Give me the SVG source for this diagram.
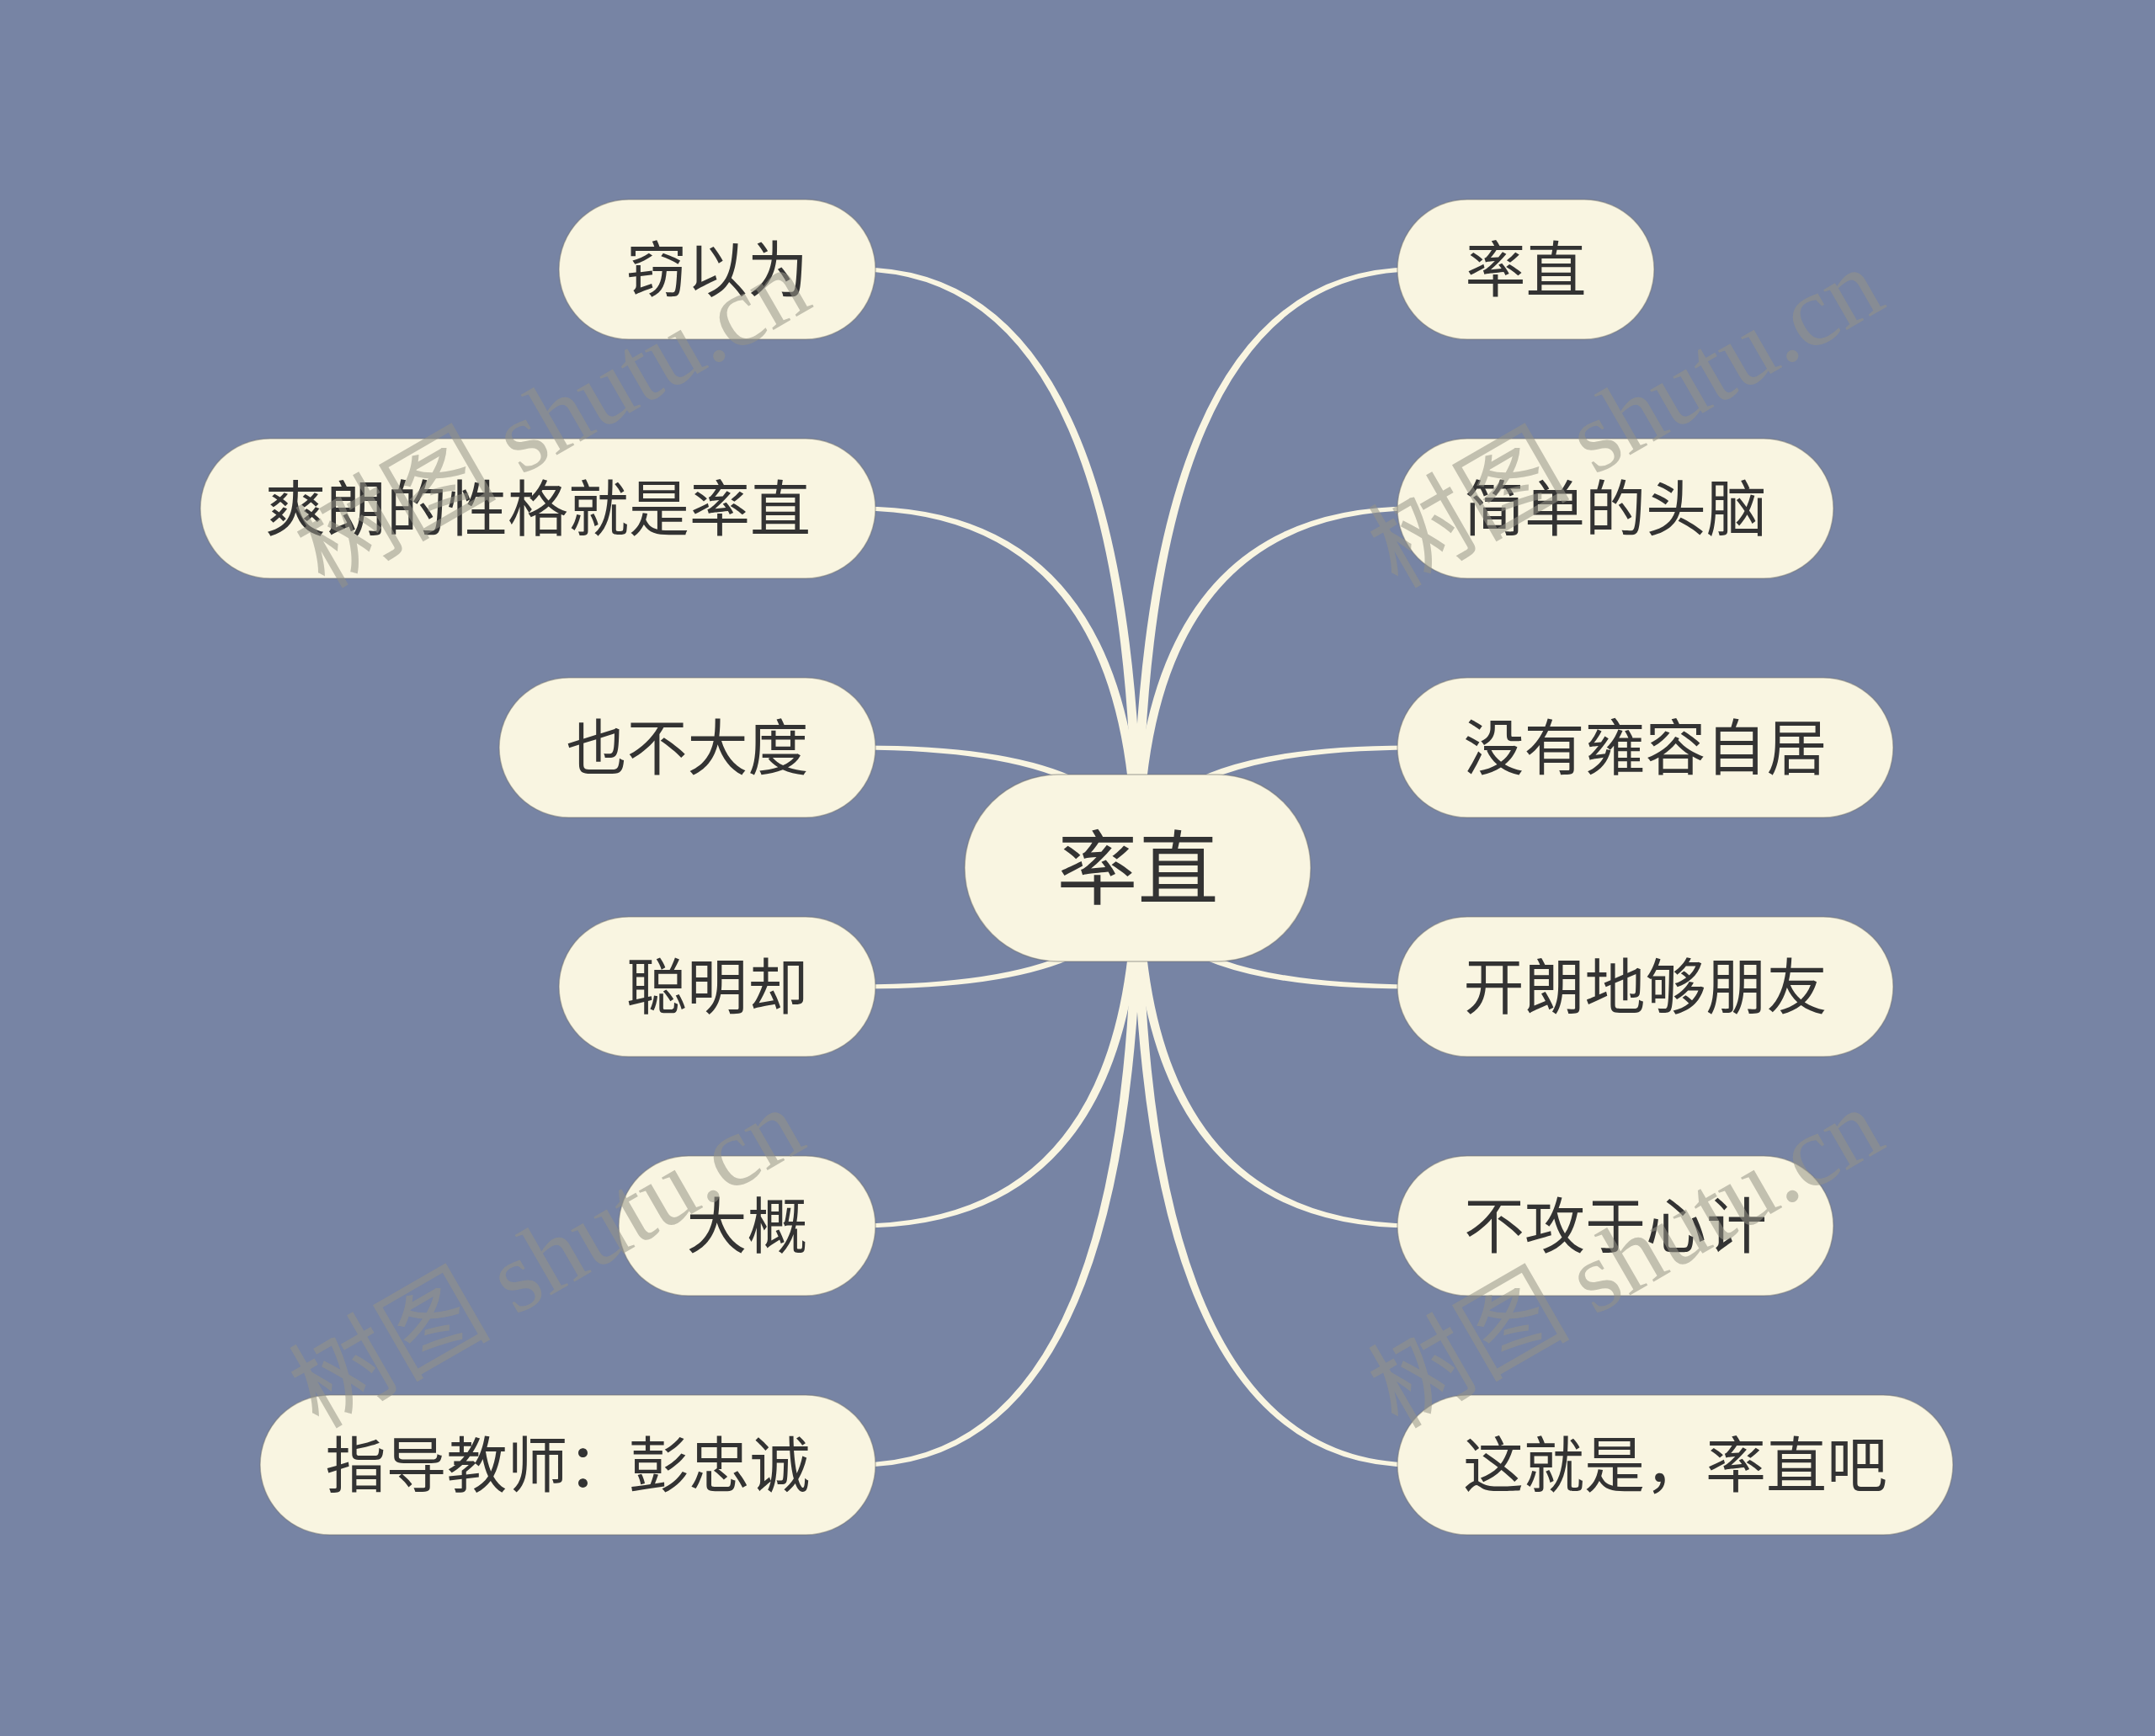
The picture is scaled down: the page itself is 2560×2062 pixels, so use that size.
<svg xmlns="http://www.w3.org/2000/svg" width="2560" height="2062" viewBox="0 0 2560 2062">
<style>
.bg{fill:#7784A4}
.node{fill:#F9F5E1;stroke:#6f6f6a;stroke-opacity:0.45;stroke-width:1.5}
.t{font-family:"Noto Sans CJK SC","Noto Sans",sans-serif;font-size:72px;fill:#333333;text-anchor:middle}
.rt{font-family:"Noto Sans CJK SC","Noto Sans",sans-serif;font-size:96px;fill:#333333;text-anchor:middle}
.link{fill:#F9F5E1;stroke:none}
.wm{font-family:"Liberation Serif","Noto Sans CJK SC",serif;font-size:120px;fill:rgb(150,148,135);fill-opacity:0.55}
</style>
<rect class="bg" x="0" y="0" width="2560" height="2062"/>
<g id="connectors">
<path class="link" d="M1357,1031 Q1355,316 1020,317.5 L1020,322.5 Q1347,324 1345,1031 Z"/>
<path class="link" d="M1357,1031 Q1355,600 1020,601.5 L1020,606.5 Q1347,608 1345,1031 Z"/>
<path class="link" d="M1357,1031 Q1355,884 1020,885.5 L1020,890.5 Q1347,892 1345,1031 Z"/>
<path class="link" d="M1357,1031 Q1355,1176 1020,1174.5 L1020,1169.5 Q1347,1168 1345,1031 Z"/>
<path class="link" d="M1357,1031 Q1355,1460 1020,1458.5 L1020,1453.5 Q1347,1452 1345,1031 Z"/>
<path class="link" d="M1357,1031 Q1355,1744 1020,1742.5 L1020,1737.5 Q1347,1736 1345,1031 Z"/>
<path class="link" d="M1345,1031 Q1347,316 1680,317.5 L1680,322.5 Q1355,324 1357,1031 Z"/>
<path class="link" d="M1345,1031 Q1347,600 1680,601.5 L1680,606.5 Q1355,608 1357,1031 Z"/>
<path class="link" d="M1345,1031 Q1347,884 1680,885.5 L1680,890.5 Q1355,892 1357,1031 Z"/>
<path class="link" d="M1345,1031 Q1347,1176 1680,1174.5 L1680,1169.5 Q1355,1168 1357,1031 Z"/>
<path class="link" d="M1345,1031 Q1347,1460 1680,1458.5 L1680,1453.5 Q1355,1452 1357,1031 Z"/>
<path class="link" d="M1345,1031 Q1347,1744 1680,1742.5 L1680,1737.5 Q1355,1736 1357,1031 Z"/>
</g>
<g id="root"><rect class="node" x="1146" y="920" width="411" height="222" rx="111"/><text class="rt" x="1351.5" y="1066">率直</text></g>
<g id="n-l1"><rect class="node" x="664" y="237" width="376" height="166" rx="83"/><text class="t" x="852" y="346">窃以为</text></g>
<g id="n-l2"><rect class="node" x="238" y="521" width="802" height="166" rx="83"/><text class="t" x="639" y="630">爽朗的性格就是率直</text></g>
<g id="n-l3"><rect class="node" x="593" y="805" width="447" height="166" rx="83"/><text class="t" x="816.5" y="914">也不大度</text></g>
<g id="n-l4"><rect class="node" x="664" y="1089" width="376" height="166" rx="83"/><text class="t" x="852" y="1198">聪明却</text></g>
<g id="n-l5"><rect class="node" x="735" y="1373" width="305" height="166" rx="83"/><text class="t" x="887.5" y="1482">大概</text></g>
<g id="n-l6"><rect class="node" x="309" y="1657" width="731" height="166" rx="83"/><text class="t" x="674.5" y="1766">指导教师：彭忠诚</text></g>
<g id="n-r1"><rect class="node" x="1660" y="237" width="305" height="166" rx="83"/><text class="t" x="1812.5" y="346">率直</text></g>
<g id="n-r2"><rect class="node" x="1660" y="521" width="518" height="166" rx="83"/><text class="t" x="1919" y="630">简单的头脑</text></g>
<g id="n-r3"><rect class="node" x="1660" y="805" width="589" height="166" rx="83"/><text class="t" x="1954.5" y="914">没有雍容自居</text></g>
<g id="n-r4"><rect class="node" x="1660" y="1089" width="589" height="166" rx="83"/><text class="t" x="1954.5" y="1198">开朗地够朋友</text></g>
<g id="n-r5"><rect class="node" x="1660" y="1373" width="518" height="166" rx="83"/><text class="t" x="1919" y="1482">不攻于心计</text></g>
<g id="n-r6"><rect class="node" x="1660" y="1657" width="660" height="166" rx="83"/><text class="t" x="1990" y="1766">这就是，率直吧</text></g>
<g id="watermarks">
<text class="wm" transform="translate(385,700) rotate(-30)">树图 shutu.cn</text>
<text class="wm" transform="translate(1660,700) rotate(-30)">树图 shutu.cn</text>
<text class="wm" transform="translate(378,1698) rotate(-30)">树图 shutu.cn</text>
<text class="wm" transform="translate(1660,1698) rotate(-30)">树图 shutu.cn</text>
</g>
</svg>
